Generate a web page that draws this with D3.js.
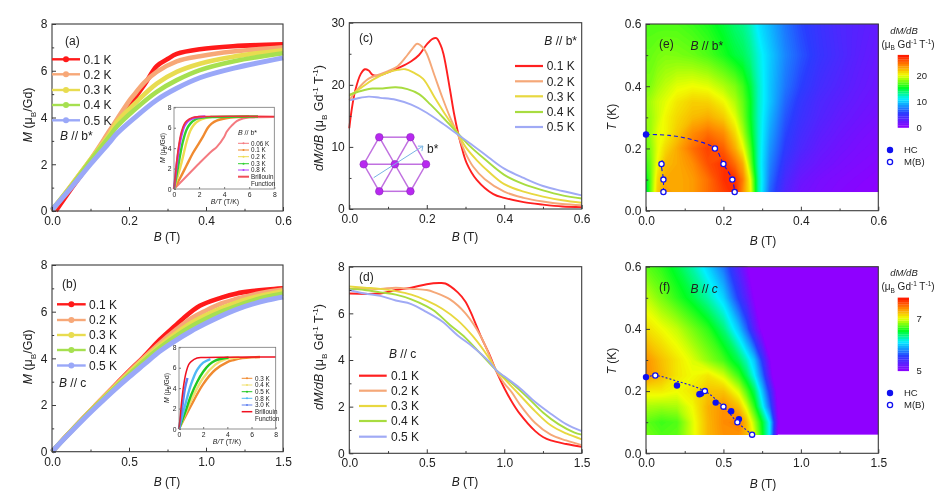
<!DOCTYPE html>
<html><head><meta charset="utf-8">
<script src="https://cdnjs.cloudflare.com/ajax/libs/d3/7.8.5/d3.min.js"></script>
<style>html,body{margin:0;padding:0;background:#fff}svg{display:block;filter:blur(.35px)}text{font-family:"Liberation Sans",Arial,sans-serif;fill:#222}</style>
</head><body><svg id="c" width="941" height="503"></svg>
<script>
// ---------- data ----------
const tempLabels=["0.1 K","0.2 K","0.3 K","0.4 K","0.5 K"];
const a01=[[.01,0],[.05,.95],[.1,2.1],[.15,3.4],[.2,4.5],[.24,5.4],[.272,6.2],[.3,6.5],[.324,6.72],[.384,6.92],[.47,7.05],[.6,7.13]];
const a02=[[0,0],[.05,1.1],[.1,2.2],[.15,3.45],[.2,4.7],[.212,4.95],[.24,5.5],[.272,5.95],[.324,6.4],[.384,6.62],[.47,6.82],[.6,7]];
const a03=[[0,.05],[.05,1.1],[.1,2.2],[.15,3.3],[.168,3.8],[.212,4.55],[.272,5.45],[.324,5.95],[.384,6.3],[.47,6.6],[.6,6.88]];
const a04=[[0,.05],[.05,1.05],[.1,2.15],[.15,3.2],[.168,3.6],[.212,4.3],[.272,5.1],[.324,5.6],[.384,6.03],[.47,6.4],[.6,6.75]];
const a05=[[0,.05],[.05,1],[.1,2],[.15,2.95],[.168,3.3],[.212,3.95],[.272,4.75],[.324,5.25],[.384,5.7],[.47,6.1],[.6,6.55]];
const b01=[[0,0],[.1,.72],[.2,1.42],[.3,2.1],[.4,2.78],[.5,3.45],[.6,4.1],[.7,4.8],[.8,5.4],[.85,5.7],[.96,6.25],[1.1,6.6],[1.2,6.78],[1.3,6.88],[1.4,6.95],[1.5,7]];
const b02=[[0,0],[.1,.72],[.2,1.42],[.3,2.1],[.4,2.76],[.5,3.42],[.6,4.05],[.7,4.65],[.8,5.2],[.9,5.7],[1,6.05],[1.1,6.35],[1.2,6.55],[1.3,6.72],[1.4,6.85],[1.5,6.95]];
const b03=[[0,0],[.1,.72],[.2,1.41],[.3,2.08],[.4,2.73],[.5,3.37],[.6,3.98],[.7,4.55],[.8,5.05],[.9,5.5],[1,5.85],[1.1,6.15],[1.2,6.4],[1.3,6.6],[1.4,6.75],[1.5,6.88]];
const b04=[[0,0],[.1,.71],[.2,1.4],[.3,2.05],[.4,2.68],[.5,3.3],[.6,3.9],[.7,4.45],[.8,4.93],[.9,5.35],[1,5.7],[1.1,6],[1.2,6.25],[1.3,6.47],[1.4,6.65],[1.5,6.78]];
const b05=[[0,0],[.1,.69],[.2,1.36],[.3,2],[.4,2.62],[.5,3.2],[.6,3.75],[.7,4.3],[.8,4.75],[.9,5.15],[1,5.5],[1.1,5.82],[1.2,6.1],[1.3,6.32],[1.4,6.5],[1.5,6.63]];
const c01=[[0,13],[.005,15.5],[.015,19],[.03,21.8],[.04,22.5],[.05,22.3],[.06,21.6],[.075,21.5],[.1,22],[.13,22.8],[.16,23.8],[.18,24.8],[.2,26.5],[.215,27.4],[.225,27.5],[.235,26.5],[.243,25],[.26,19.2],[.27,15.5],[.281,12.2],[.29,10],[.303,7.4],[.329,4.7],[.372,2.4],[.4,1.8],[.45,1.1],[.5,.7],[.55,.4],[.6,.3]];
const c02=[[0,17.5],[.02,19.2],[.05,21],[.08,21.7],[.1,22.2],[.125,23],[.15,24.8],[.165,26],[.175,26.6],[.19,26],[.2,25],[.22,21.5],[.24,18],[.26,14.8],[.28,12],[.3,9],[.32,6.8],[.35,4.8],[.4,2.8],[.45,1.8],[.5,1.2],[.55,.8],[.6,.6]];
const c03=[[0,18.2],[.03,19.5],[.06,20.8],[.1,22],[.125,22.4],[.145,22.5],[.165,22],[.19,21],[.22,18],[.25,15],[.28,12.2],[.3,10],[.33,7.8],[.36,6],[.4,4],[.45,2.8],[.5,2],[.55,1.4],[.6,1]];
const c04=[[0,18.4],[.03,19],[.06,19.4],[.08,19.4],[.12,19.6],[.15,19.3],[.18,18.5],[.21,16.8],[.25,14.2],[.28,12.2],[.31,10.2],[.35,8],[.4,5.5],[.45,4],[.5,3],[.55,2.2],[.6,1.7]];
const c05=[[0,17.5],[.02,17.8],[.05,18.1],[.08,17.9],[.12,17.6],[.16,16.8],[.2,15.5],[.24,13.8],[.28,12],[.32,10.2],[.36,8.3],[.4,6.5],[.45,5],[.5,3.7],[.55,2.9],[.6,2.2]];
const d01=[[0,6.85],[.2,6.85],[.3,7],[.4,7.1],[.5,7.25],[.58,7.3],[.62,7.28],[.7,6.9],[.75,6.5],[.8,5.8],[.85,5],[.9,4.3],[.95,3.5],[1,2.8],[1.05,2.2],[1.1,1.7],[1.2,.95],[1.25,.7],[1.3,.55],[1.4,.4],[1.5,.28]];
const d02=[[0,7.05],[.1,7.05],[.2,7.05],[.3,7.1],[.4,7.05],[.5,7],[.55,6.9],[.65,6.6],[.75,6],[.85,5],[.95,3.5],[1,3],[1.05,2.6],[1.1,2.1],[1.2,1.3],[1.3,.8],[1.4,.55],[1.5,.35]];
const d03=[[0,7.15],[.1,7.1],[.2,7.05],[.3,6.95],[.4,6.8],[.5,6.55],[.6,6.2],[.7,5.7],[.8,5],[.9,4.1],[.95,3.55],[1,3.2],[1.1,2.5],[1.2,1.8],[1.3,1.2],[1.4,.85],[1.5,.6]];
const d04=[[0,7.05],[.1,7],[.2,6.9],[.3,6.8],[.4,6.6],[.5,6.3],[.55,6.1],[.65,5.5],[.75,4.95],[.85,4.25],[.95,3.55],[1.05,3],[1.15,2.4],[1.25,1.75],[1.35,1.25],[1.45,.9],[1.5,.8]];
const d05=[[0,7],[.1,6.85],[.2,6.75],[.3,6.55],[.4,6.4],[.5,6.05],[.6,5.65],[.7,5.05],[.8,4.55],[.9,3.95],[.95,3.55],[1,3.3],[1.1,2.8],[1.2,2.2],[1.3,1.7],[1.4,1.25],[1.5,.95]];
// inset (a)
const insetALabels=["0.06 K","0.1 K","0.2 K","0.3 K","0.8 K"];
const ia006=[[0,0],[1,1.25],[2,2.5],[3,3.7],[3.4,4.1],[4,5.1],[4.2,5.6],[4.6,6.2],[5,6.65],[5.5,6.9],[6,7],[8,7.05]];
const ia01=[[0,0],[.5,1.1],[1,2.3],[1.5,3.5],[2,4.5],[2.3,5.1],[2.7,6],[3,6.4],[3.4,6.7],[4.5,7],[6,7.1]];
const ia02=[[0,0],[.5,2.1],[.8,3.6],[1,4.6],[1.3,5.7],[1.6,6.3],[2,6.7],[2.5,6.95],[3,7.05]];
const ia03=[[0,0],[.3,2],[.5,3.4],[.7,4.6],[1,5.8],[1.3,6.4],[1.7,6.8],[2,6.95],[3,7.05],[6.7,7.1]];
const ia08=[[0,0],[.2,2.2],[.4,4],[.6,5.3],[.8,6.1],[1,6.5],[1.3,6.8],[1.7,7],[2.5,7.1]];
const iaBr=[[0,0],[.1,1.2],[.2,2.5],[.4,4.4],[.6,5.6],[.8,6.3],[1,6.65],[1.5,7],[2,7.08],[8,7.1]];
// inset (b)
const insetBLabels=["0.3 K","0.4 K","0.5 K","0.8 K","3.0 K"];
const ib03=[[0,0],[1,2.3],[2,4.4],[3,5.8],[4,6.55],[4.5,6.75],[5,6.9],[6.7,7.05]];
const ib04=[[0,0],[1,2.8],[2,5],[3,6.3],[3.75,6.8],[5,7]];
const ib05=[[0,0],[.5,1.6],[1,3.3],[1.5,4.6],[2,5.6],[2.5,6.3],[3,6.7],[4.1,7]];
const ib08=[[0,0],[.5,2.3],[1,4.4],[1.5,5.8],[2,6.5],[2.6,6.85]];
const ib30=[[0,0],[.2,1.5],[.5,4],[.7,5]];
const ibBr=[[0,0],[.1,1.2],[.2,2.5],[.4,4.4],[.6,5.6],[.8,6.3],[1,6.6],[1.5,6.95],[2,7],[8,7.05]];
// map (e): dM/dB on a field/temperature grid
const eFields=[0,.01,.03,.05,.08,.12,.16,.2,.23,.25,.27,.29,.32,.36,.4,.45,.5,.55,.6];
const eTemps=[.06,.1,.15,.2,.25,.3,.35,.4,.5,.6];
const eT006=[14,17,22,23.5,23,23.5,25,26.5,27.5,24,20.5,13,7,3.5,1.8,1.2,.8,.5,.3];
const eT010=[15,17,21.5,23,23,23.5,25,27,27,24.5,20,13,7.5,4,2.2,1.4,1,.7,.4];
const eT015=[16.5,17.5,20.5,22.5,23,24,26,27,25,23,18,12.5,8,4.8,3,2,1.4,1,.7];
const eT020=[17.5,18,20,21.5,23,25,26.5,25.5,23,20.5,17,12.5,8.5,5.5,3.8,2.5,1.8,1.3,1];
const eT025=[18,18.5,20,20.5,22,24,25,24,21.5,19,16,12.5,9,6,4.3,3,2.2,1.6,1.2];
const eT030=[18.5,18.5,19.5,20.5,21.5,22.5,23,22,20,18,15.5,12.5,9.5,6.5,4.8,3.5,2.6,2,1.5];
const eT035=[18.5,18.7,19.5,20,21,21.8,21.7,20.5,19,17.5,15.5,12.5,10,7,5.2,3.8,3,2.3,1.8];
const eT040=[18,18,18.8,19.3,20,20.3,20,19,18,16.8,15,12.5,10,7.5,5.8,4.3,3.4,2.6,2];
const eT050=[17.5,17.5,17.8,18,17.9,17.6,17,16,15,14.5,13.5,12,10.2,8,6.5,5,4,3,2.3];
const eT060=[17,17,17,17,17,16.6,16,15,14,13.5,12.5,11,9.5,7.5,6,4.8,3.8,3.2,2.6];
// map (f)
const fFields=[0,.1,.2,.3,.4,.5,.6,.65,.7,.75,.8,.85,.9,1,1.5];
const fTemps=[.06,.1,.15,.2,.25,.3,.4,.5,.6];
const fT006=[6.8,6.72,6.75,7,7.28,7.4,7.4,7.28,7,6.6,6.1,5,4.4,4,1];
const fT010=[6.75,6.68,6.72,7,7.28,7.42,7.48,7.25,6.9,6.55,6.1,5.1,4.5,4,1];
const fT015=[6.9,6.88,6.9,7.05,7.3,7.4,7.25,6.98,6.65,6.2,5.7,5,4.5,4,1];
const fT020=[7.1,7.1,7.05,7.12,7.24,7.24,6.98,6.72,6.45,6,5.5,4.9,4.4,4,1];
const fT025=[7.42,7.28,7.12,7.05,7.12,6.98,6.68,6.45,6.15,5.75,5.2,4.6,4.3,4,1];
const fT030=[7.4,7.25,7.12,7,6.85,6.7,6.45,6.25,6,5.55,5.05,4.6,4.3,4,1];
const fT040=[7.15,7.05,6.95,6.8,6.65,6.4,6,5.7,5.3,4.95,4.6,4.4,4.2,4,1];
const fT050=[6.95,6.8,6.65,6.5,6.3,6.05,5.55,5.3,5,4.75,4.5,4.3,4.1,3.8,1];
const fT060=[6.75,6.65,6.5,6.3,6.05,5.75,5.3,5.05,4.8,4.6,4.4,4.2,4,3.5,1];
// transition points
const eHC=[[0,.245]];
const eMB=[[.04,.15],[.045,.1],[.045,.06],[.178,.2],[.2,.15],[.223,.1],[.229,.06]];
const ePhaseA=[[0,.245],[.06,.242],[.12,.228],[.178,.2],[.2,.15],[.223,.1],[.229,.06]];
const ePhaseB=[[.045,.06],[.045,.1],[.04,.15],[.045,.172]];
const fHC=[[0,.245],[.2,.218],[.345,.19],[.355,.192],[.45,.163],[.55,.135],[.6,.11]];
const fMB=[[.06,.25],[.38,.2],[.5,.15],[.59,.1],[.685,.06]];
const fPhase=[[0,.245],[.06,.25],[.2,.232],[.38,.2],[.5,.15],[.59,.1],[.685,.06]];
// lattice of the crystal sketch (unit of one Gd-Gd distance)
const latticeNodes=[[0,0],[1,0],[.5,.866],[-.5,.866],[-1,0],[-.5,-.866],[.5,-.866]];
const colorStops=[0,.2,.4,.55,.72,.85,1];
const colorNames=["#8f00ff","#2b3cff","#00f0ff","#00ff20","#f0ff00","#ff9000","#ff1000"];

// ---------- styles ----------
const tempColors=["#ff1a1a","#f7a878","#e8dc50","#a6e050","#9aa8f8"];
const lineColors=["#ff2020","#f5a878","#e8d840","#a8dc40","#a0aaf5"];
const insetAColors=["#f47a80","#f08a30","#eedc50","#30d030","#b040ff"];
const insetBColors=["#f08a30","#f0e070","#20c820","#50b8f5","#6080f0"];
const BLUE="#1010f0", AX="#3a3a3a";
const svg=d3.select("#c");

function rich(g,x,y,parts,o={}){
  const t=g.append("text").attr("x",x).attr("y",y).attr("font-size",o.size||12)
    .attr("text-anchor",o.anchor||"start");
  if(o.rotate) t.attr("transform",`rotate(-90 ${x} ${y})`);
  const size=o.size||12; let prev=0;
  parts.forEach(p=>{
    const s=typeof p==="string"?{t:p}:p;
    const shift=s.sub?size*.28:s.sup?-size*.4:0;
    const ts=t.append("tspan").text(s.t).attr("dy",shift-prev);
    if(s.i) ts.attr("font-style","italic");
    if(s.sub||s.sup) ts.attr("font-size",size*.65);
    prev=shift;
  });
  return t;
}
const I=t=>({t,i:true}), SUB=t=>({t,sub:true}), SUP=t=>({t,sup:true});
const titleDM=[I("dM/dB")," (μ",SUB("B")," Gd",SUP("-1")," T",SUP("-1"),")"];

function axes(g,x,y,o){
  const W=x.range()[1]-x.range()[0];
  const size=o.size||12, inner=o.inner||4, minor=o.minor||2.2, pad=o.pad||4.5;
  const ax=d3.axisBottom(x).tickValues(o.xt).tickFormat(d3.format(o.xf)).tickSize(-inner).tickPadding(o.padX||pad+1);
  const ay=d3.axisLeft(y).tickValues(o.yt).tickFormat(d3.format(o.yf)).tickSize(-inner).tickPadding(pad);
  const gx=g.append("g").attr("transform",`translate(0,${y.range()[0]})`).call(ax);
  const gy=g.append("g").attr("transform",`translate(${x.range()[0]},0)`).call(ay);
  [gx,gy].forEach(s=>{s.select(".domain").remove();s.selectAll("line").attr("stroke",o.color||AX);
    s.selectAll("text").attr("font-size",size).attr("fill","#222").attr("font-family",'"Liberation Sans",Arial,sans-serif');});
  if(o.xm){const m=g.append("g").attr("transform",`translate(0,${y.range()[0]})`).call(d3.axisBottom(x).tickValues(o.xm).tickFormat("").tickSize(-minor));m.select(".domain").remove();m.selectAll("line").attr("stroke",o.color||AX);}
  if(o.ym){const m=g.append("g").attr("transform",`translate(${x.range()[0]},0)`).call(d3.axisLeft(y).tickValues(o.ym).tickFormat("").tickSize(-minor));m.select(".domain").remove();m.selectAll("line").attr("stroke",o.color||AX);}
  g.append("rect").attr("x",x.range()[0]).attr("y",y.range()[1]).attr("width",W).attr("height",y.range()[0]-y.range()[1])
    .attr("fill","none").attr("stroke",o.color||AX).attr("stroke-width",o.frame||1.1);
}
function curves(g,x,y,series,colors,w){
  const line=d3.line().x(d=>x(d[0])).y(d=>y(d[1])).curve(d3.curveCatmullRom.alpha(.5));
  g.selectAll(null).data(series).join("path").attr("d",line).attr("fill","none")
    .attr("stroke",(d,i)=>colors[i]).attr("stroke-width",(d,i)=>Array.isArray(w)?w[i]:w);
}
function legend(g,x1,x2,tx,ys,labels,colors,w,dot,size){
  labels.forEach((l,i)=>{
    g.append("line").attr("x1",x1).attr("x2",x2).attr("y1",ys[i]).attr("y2",ys[i]).attr("stroke",colors[i]).attr("stroke-width",w);
    if(dot) g.append("circle").attr("cx",(x1+x2)/2).attr("cy",ys[i]).attr("r",dot).attr("fill",colors[i]);
    g.append("text").attr("x",tx).attr("y",ys[i]).attr("dy",".36em").attr("font-size",size||12).text(l);
  });
}
const sc=(d,r)=>d3.scaleLinear().domain(d).range(r);

// ---------- (a) ----------
{const g=svg.append("g"),x=sc([0,.6],[52,283]),y=sc([0,8],[211,24]);
 curves(g,x,y,[a01,a02,a03,a04,a05],tempColors,[4.6,4.6,4.6,4.6,5]);
 axes(g,x,y,{xt:[0,.2,.4,.6],xf:".1f",yt:[0,2,4,6,8],yf:"d",xm:[.1,.3,.5],ym:[1,3,5,7]});
 rich(g,65,45,["(a)"]);
 legend(g,52,80,83.5,[59.3,74.3,90,105,120.3],tempLabels,tempColors,2.4,3);
 rich(g,60,140,[I("B")," // b*"]);
 rich(g,167,241,[I("B")," (T)"],{anchor:"middle"});
 rich(g,32,115,[I("M")," (μ",SUB("B"),"/Gd)"],{anchor:"middle",rotate:true,size:12.5});
 const xi=sc([0,8],[174,274.3]),yi=sc([0,8],[189,107.3]);
 curves(g,xi,yi,[ia006,ia01,ia02,ia03,ia08,iaBr],[...insetAColors,"#f0303c"],[2,2.4,2.4,2.4,2.4,1.7]);
 axes(g,xi,yi,{xt:[0,2,4,6,8],xf:"d",yt:[0,2,4,6,8],yf:"d",size:6.8,inner:2,minor:1,pad:2.5,padX:3,color:"#777",frame:.8});
 rich(g,238,135,[I("B")," // b*"],{size:7});
 legend(g,238,249,251,[143.3,150,156.7,163.7,170],insetALabels,insetAColors,1,1,6.3);
 g.append("line").attr("x1",238).attr("x2",249).attr("y1",176.7).attr("y2",176.7).attr("stroke","#f0505a").attr("stroke-width",2);
 rich(g,251,179,["Brillouin"],{size:6.3});rich(g,251,185.5,["Function"],{size:6.3});
 rich(g,225,204,[I("B/T")," (T/K)"],{size:7,anchor:"middle"});
 rich(g,165,148,[I("M")," (μ",SUB("B"),"/Gd)"],{size:6.8,anchor:"middle",rotate:true});
}
// ---------- (b) ----------
{const g=svg.append("g"),x=sc([0,1.5],[52,283]),y=sc([0,8],[451.7,265]);
 curves(g,x,y,[b01,b02,b03,b04,b05],tempColors,[4.6,4.6,4.6,4.6,5]);
 axes(g,x,y,{xt:[0,.5,1,1.5],xf:".1f",yt:[0,2,4,6,8],yf:"d",xm:[.25,.75,1.25],ym:[1,3,5,7]});
 rich(g,62,288,["(b)"]);
 legend(g,57,85.7,89,[304.3,320,335,350,365.5],tempLabels,tempColors,2.4,3);
 rich(g,59,387,[I("B")," // c"]);
 rich(g,167,486,[I("B")," (T)"],{anchor:"middle"});
 rich(g,32,357,[I("M")," (μ",SUB("B"),"/Gd)"],{anchor:"middle",rotate:true,size:12.5});
 const xi=sc([0,8],[179,275.7]),yi=sc([0,8],[429,347.3]);
 curves(g,xi,yi,[ib03,ib04,ib05,ib08,ib30,ibBr],[...insetBColors,"#f01020"],[2.4,2.4,2.4,2.4,2.4,1.5]);
 axes(g,xi,yi,{xt:[0,2,4,6,8],xf:"d",yt:[0,2,4,6,8],yf:"d",size:6.8,inner:2,minor:1,pad:2.5,padX:3,color:"#777",frame:.8});
 legend(g,241.7,252.3,255,[378.3,385,391.7,398.3,405],insetBLabels,insetBColors,1,1,6.3);
 g.append("line").attr("x1",241.7).attr("x2",252.3).attr("y1",411.7).attr("y2",411.7).attr("stroke","#f01020").attr("stroke-width",1.5);
 rich(g,255,414,["Brillouin"],{size:6.3});rich(g,255,420.5,["Function"],{size:6.3});
 rich(g,227,444,[I("B/T")," (T/K)"],{size:7,anchor:"middle"});
 rich(g,169,388,[I("M")," (μ",SUB("B"),"/Gd)"],{size:6.8,anchor:"middle",rotate:true});
}
// ---------- (c) ----------
{const g=svg.append("g"),x=sc([0,.6],[349.3,581.7]),y=sc([0,30],[209,22.7]);
 curves(g,x,y,[c01,c02,c03,c04,c05],lineColors,1.9);
 axes(g,x,y,{xt:[0,.2,.4,.6],xf:".1f",yt:[0,10,20,30],yf:"d",xm:[.1,.3,.5],ym:[5,15,25]});
 rich(g,359,42,["(c)"]);
 rich(g,577,45,[I("B")," // b*"],{anchor:"end"});
 legend(g,515,543,546.7,[66,81.3,96.3,112,127],tempLabels,lineColors,2.2);
 rich(g,465,241,[I("B")," (T)"],{anchor:"middle"});
 rich(g,323,118,titleDM,{anchor:"middle",rotate:true,size:12.5});
 // crystal sketch
 const lx=sc([-1,1],[363.7,426]),ly=sc([-1,1],[195.5,133]);
 const bonds=[];latticeNodes.slice(1).forEach((n,i,a)=>{bonds.push([latticeNodes[0],n]);bonds.push([n,a[(i+1)%6]]);});
 g.selectAll(null).data(bonds).join("line").attr("x1",d=>lx(d[0][0])).attr("y1",d=>ly(d[0][1])).attr("x2",d=>lx(d[1][0])).attr("y2",d=>ly(d[1][1])).attr("stroke","#c070e0").attr("stroke-width",1.5);
 g.selectAll(null).data(latticeNodes).join("circle").attr("cx",d=>lx(d[0])).attr("cy",d=>ly(d[1])).attr("r",3.8).attr("fill","#b828f0").attr("stroke","#8a28b8").attr("stroke-width",.6);
 g.append("line").attr("x1",lx(-.68)).attr("y1",ly(-.43)).attr("x2",lx(.9)).attr("y2",ly(.58)).attr("stroke","#78b4e4").attr("stroke-width",1);
 g.append("path").attr("d",d3.line()([[lx(.9)-5,ly(.58)],[lx(.9),ly(.58)],[lx(.9)-1,ly(.58)+5]])).attr("fill","none").attr("stroke","#78b4e4").attr("stroke-width",1);
 rich(g,427,153,["b*"]);
}
// ---------- (d) ----------
{const g=svg.append("g"),x=sc([0,1.5],[349.3,581.7]),y=sc([0,8],[453.3,266.7]);
 curves(g,x,y,[d01,d02,d03,d04,d05],lineColors,1.9);
 axes(g,x,y,{xt:[0,.5,1,1.5],xf:".1f",yt:[0,2,4,6,8],yf:"d",xm:[.25,.75,1.25],ym:[1,3,5,7]});
 rich(g,359,281,["(d)"]);
 rich(g,389,358,[I("B")," // c"]);
 legend(g,359,386.7,391,[375.7,390.7,406,421,436.7],tempLabels,lineColors,2.2);
 rich(g,465,486,[I("B")," (T)"],{anchor:"middle"});
 rich(g,323,357,titleDM,{anchor:"middle",rotate:true,size:12.5});
}
// ---------- maps ----------
function heat(g,x,y,fields,temps,rows,dom){
  const n=fields.length,m=temps.length,flat=rows.flat();
  const col=d3.scaleLinear().domain(colorStops.map(s=>dom[0]+s*(dom[1]-dom[0]))).range(colorNames).clamp(true);
  const ix=d3.scaleLinear().domain(d3.range(n).map(i=>i+.5)).range(fields).clamp(true);
  const iy=d3.scaleLinear().domain(d3.range(m).map(i=>i+.5)).range(temps).clamp(true);
  const levels=d3.range(dom[0],dom[1],(dom[1]-dom[0])/140);
  const path=d3.geoPath(d3.geoTransform({point(a,b){this.stream.point(x(ix(a)),y(iy(b)));}}));
  g.append("rect").attr("x",x.range()[0]).attr("width",x.range()[1]-x.range()[0]).attr("y",y(temps[m-1])).attr("height",y(temps[0])-y(temps[m-1])).attr("fill",col(dom[0]));
  g.selectAll(null).data(d3.contours().size([n,m]).thresholds(levels)(flat)).join("path")
    .attr("d",path).attr("fill",d=>col(d.value));
  return col;
}
function pts(g,x,y,hc,mb){
  g.selectAll(null).data(hc).join("circle").attr("cx",d=>x(d[0])).attr("cy",d=>y(d[1])).attr("r",3.2).attr("fill",BLUE);
  g.selectAll(null).data(mb).join("circle").attr("cx",d=>x(d[0])).attr("cy",d=>y(d[1])).attr("r",2.6).attr("fill","#fff").attr("stroke",BLUE).attr("stroke-width",1.3);
}
function bar(g,x0,x1,yBot,yTop,dom,col,ticks,yTitle,yUnit,yHC,yMB){
  const ys=sc(dom,[yBot,yTop]);const steps=32,vals=d3.range(steps).map(i=>dom[0]+(i+.5)*(dom[1]-dom[0])/steps);
  const h=(yBot-yTop)/steps;
  g.selectAll(null).data(vals).join("rect").attr("x",x0).attr("width",x1-x0).attr("y",d=>ys(d)-h/2-.1).attr("height",h+.2).attr("fill",d=>col(d));
  ticks.forEach(t=>g.append("text").attr("x",x1+7.5).attr("y",ys(t)).attr("dy",".36em").attr("font-size",9.5).text(d3.format("d")(t)));
  rich(g,904,yTitle,[I("dM/dB")],{size:9.5,anchor:"middle"});
  rich(g,908,yUnit,["(μ",SUB("B")," Gd",SUP("-1")," T",SUP("-1"),")"],{size:10,anchor:"middle"});
  g.append("circle").attr("cx",890).attr("cy",yHC).attr("r",3.2).attr("fill",BLUE);
  g.append("circle").attr("cx",890).attr("cy",yMB).attr("r",2.6).attr("fill","#fff").attr("stroke",BLUE).attr("stroke-width",1.3);
  g.append("text").attr("x",904).attr("y",yHC).attr("dy",".36em").attr("font-size",9.5).text("HC");
  g.append("text").attr("x",904).attr("y",yMB).attr("dy",".36em").attr("font-size",9.5).text("M(B)");
}
const phaseLine=(x,y)=>d3.line().x(d=>x(d[0])).y(d=>y(d[1])).curve(d3.curveCatmullRom);
// ---------- (e) ----------
{const g=svg.append("g"),x=sc([0,.6],[646,878.3]),y=sc([0,.6],[210.7,24]);
 const dom=[0,28];
 const col=heat(g,x,y,eFields,eTemps,[eT006,eT010,eT015,eT020,eT025,eT030,eT035,eT040,eT050,eT060],dom);
 axes(g,x,y,{xt:[0,.2,.4,.6],xf:".1f",yt:[0,.2,.4,.6],yf:".1f",xm:[.1,.3,.5],ym:[.1,.3,.5]});
 const ln=phaseLine(x,y);
 g.append("path").attr("d",ln(ePhaseA)).attr("fill","none").attr("stroke",BLUE).attr("stroke-width",1.1).attr("stroke-dasharray","4 3");
 g.append("path").attr("d",ln(ePhaseB)).attr("fill","none").attr("stroke",BLUE).attr("stroke-width",1.1).attr("stroke-dasharray","4 3");
 pts(g,x,y,eHC,eMB);
 rich(g,659,48,["(e)"]);
 rich(g,690.5,50,[I("B")," // b*"]);
 rich(g,763,245,[I("B")," (T)"],{anchor:"middle"});
 rich(g,616,117,[I("T")," (K)"],{anchor:"middle",rotate:true});
 bar(g,897.7,909,127.7,55,[0,28],col,[0,10,20],33.5,47.5,150,162);
}
// ---------- (f) ----------
{const g=svg.append("g"),x=sc([0,1.5],[646,878.3]),y=sc([0,.6],[453.3,266.7]);
 const dom=[5,7.82];
 const col=heat(g,x,y,fFields,fTemps,[fT006,fT010,fT015,fT020,fT025,fT030,fT040,fT050,fT060],dom);
 axes(g,x,y,{xt:[0,.5,1,1.5],xf:".1f",yt:[0,.2,.4,.6],yf:".1f",xm:[.25,.75,1.25],ym:[.1,.3,.5]});
 g.append("path").attr("d",phaseLine(x,y)(fPhase)).attr("fill","none").attr("stroke",BLUE).attr("stroke-width",1.1).attr("stroke-dasharray","2 2");
 pts(g,x,y,fHC,fMB);
 rich(g,659,291,["(f)"]);
 rich(g,690.5,293,[I("B")," // ",I("c")]);
 rich(g,763,488,[I("B")," (T)"],{anchor:"middle"});
 rich(g,616,361,[I("T")," (K)"],{anchor:"middle",rotate:true});
 bar(g,897.7,909,371,297.7,dom,col,[5,7],276,290,393,405);
}
</script></body></html>
